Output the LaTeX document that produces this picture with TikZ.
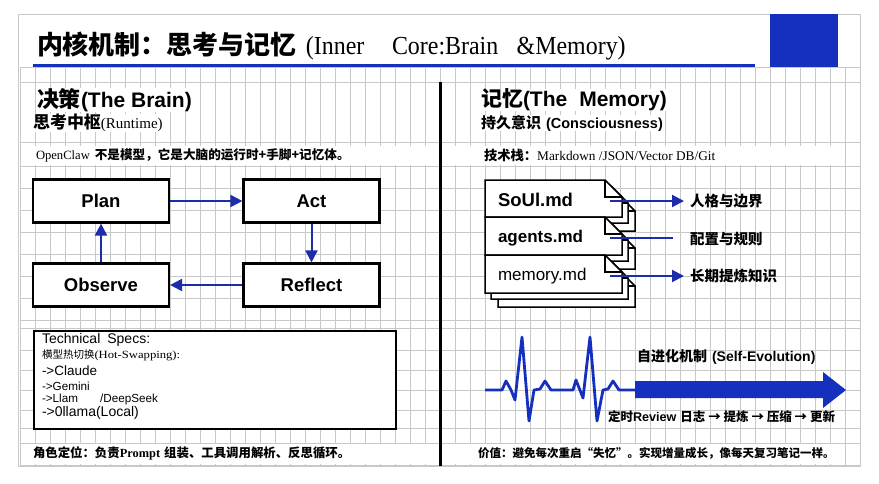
\documentclass[tikz,border=0pt]{standalone}
\usepackage{fontspec}
\usepackage{graphicx}
\usetikzlibrary{arrows.meta}
\setmainfont{Liberation Serif}
\setsansfont{Liberation Sans}
\newfontfamily\zhfont{Noto Sans CJK SC}
\newcommand\ZB[2]{{\zhfont\bfseries\fontsize{#1}{#1}\selectfont #2}}
\newcommand\ZR[2]{{\zhfont\fontsize{#1}{#1}\selectfont #2}}
\newcommand\SB[2]{{\sffamily\bfseries\fontsize{#1}{#1}\selectfont #2}}
\newcommand\SR[2]{{\sffamily\fontsize{#1}{#1}\selectfont #2}}
\newcommand\RR[2]{{\rmfamily\fontsize{#1}{#1}\selectfont #2}}
\definecolor{myblue}{RGB}{22,48,190}
\definecolor{linkblue}{RGB}{28,44,170}
\definecolor{gridc}{RGB}{200,200,200}
\tikzset{
  txt/.style={inner sep=0pt, outer sep=0pt, anchor=west},
  stagebox/.style={draw, line width=2.2pt, fill=white, minimum width=136pt, minimum height=43pt, inner sep=0pt,
     font=\sffamily\bfseries\fontsize{18.5}{18.5}\selectfont},
  flow/.style={draw=linkblue, line width=2pt, -{Triangle[length=12pt,width=12pt]}},
  flowplain/.style={draw=linkblue, line width=2pt},
  gridline/.style={draw=gridc, line width=0.6pt},
  docpage/.style={draw, line width=1.5pt, fill=white, line join=miter},
}
\begin{document}
\begin{tikzpicture}[x=1pt,y=-1pt]
\useasboundingbox (0,0) rectangle (879,483);
\fill[white] (0,0) rectangle (879,483);
% outer frame
\draw[gridc, line width=0.8pt] (18,14) rectangle (860,466);
% grid
\foreach \x in {20,35,...,860} \draw[gridline] (\x,67) -- (\x,465);
\foreach \y in {67,82,142,166,188,210,232,254,276,298,320,328,350,370,390,410,428,443,465}
  \draw[gridline] (20,\y) -- (860,\y);
% white bands
\fill[white] (22,146) rectangle (438,165);
\fill[white] (443,146) rectangle (845,165);
\fill[white] (22,444) rectangle (438,464);
\fill[white] (443,444) rectangle (845,464);
% title
\fill[myblue] (770,14) rectangle (838,67);
\draw[myblue, line width=3pt] (33,65) -- (755,65);
\node[txt] (title) at (37,46) {\ZB{26}{内核机制：思考与记忆}\hspace{9pt}\scalebox{0.92}[1]{\RR{26}{(Inner\hspace{30pt}Core:Brain\hspace{20pt}\&Memory)}}};
% divider
\draw[black, line width=3pt] (440,82) -- (440,466);

% ---------- left ----------
\node[txt, fill=white] (lh1) at (37,100) {\ZB{22}{决策}\SB{21}{(The Brain)}};
\node[txt, fill=white] (lh2) at (33,123) {\ZB{17}{思考中枢}\RR{15}{(Runtime)}};
\node[txt] (lh3) at (36,155) {\RR{12.6}{OpenClaw}\hspace{5pt}\ZB{12.6}{不是模型，它是大脑的运行时+手脚+记忆体。}};

\node[stagebox] (plan) at (101,201) {Plan};
\node[stagebox] (act) at (311.5,201) {Act};
\node[stagebox] (observe) at (101,285) {Observe};
\node[stagebox] (reflect) at (311.5,285) {Reflect};
\draw[flow] (plan.east) -- (act.west);
\draw[flow] (act.south) -- (reflect.north);
\draw[flow] (reflect.west) -- (observe.east);
\draw[flow] (observe.north) -- (plan.south);

\node[draw, line width=2.2pt, fill=white, minimum width=362pt, minimum height=98pt, anchor=north west, inner sep=0pt] (spec) at (33,330) {};
\node[txt] (s1) at (42,340) {\SR{14}{Technical\hspace{7pt}Specs:}};
\node[txt] (s2) at (42,355) {\ZR{10.5}{横型热切换}\scalebox{1.15}[1]{\RR{11}{(Hot-Swapping):}}};
\node[txt] (s3) at (42,371) {\SR{13.5}{->Claude}};
\node[txt] (s4) at (42,386) {\SR{11.7}{->Gemini}};
\node[txt] (s5) at (42,399) {\SR{11.7}{->Llam\hspace{22pt}/DeepSeek}};
\node[txt] (s6) at (42,413) {\SR{14}{->0llama(Local)}};

\node[txt] (lb) at (33,453) {\ZB{12.4}{角色定位：负责}\RR{12.4}{\bfseries Prompt}\hspace{4pt}\ZB{12.4}{组装、工具调用解析、反思循环。}};

% ---------- right ----------
\node[txt, fill=white] (rh1) at (481,100) {\ZB{21}{记忆}\SB{21}{(The\hspace{12pt}Memory)}};
\node[txt, fill=white] (rh2) at (481,123) {\ZB{15}{持久意识}\hspace{5pt}\SB{14.5}{(Consciousness)}};
\node[txt] (rh3) at (484,155) {\ZB{13.3}{技术栈：}\RR{13.3}{Markdown /JSON/Vector DB/Git}};

% document stack (back layers then front)
\foreach \dx/\dy in {13/14, 6/6, 0/0} {
  \foreach \t/\b in {180/217, 217/255, 255/293} {
    \draw[docpage] ({485+\dx},{\t+\dy}) -- ({605+\dx},{\t+\dy}) -- ({622+\dx},{\t+\dy+17}) -- ({622+\dx},{\b+\dy}) -- ({485+\dx},{\b+\dy}) -- cycle;
    \draw[line width=1.2pt] ({605+\dx},{\t+\dy}) -- ({605+\dx},{\t+\dy+17}) -- ({622+\dx},{\t+\dy+17});
  }
}
\node[txt] (d1) at (498,200) {\SB{18.5}{SoUl.md}};
\node[txt] (d2) at (498,238) {\SB{17}{agents.md}};
\node[txt] (d3) at (498,276) {\SR{17}{memory.md}};

\node[txt] (l1) at (690,201) {\ZB{14.5}{人格与边界}};
\node[txt] (l2) at (690,239) {\ZB{14.5}{配置与规则}};
\node[txt] (l3) at (690,276) {\ZB{14.5}{长期提炼知识}};
\coordinate (a1) at (610,201);
\coordinate (a2) at (610,238);
\coordinate (a3) at (610,276);
\coordinate (e2) at (673,238);
\draw[flow] (a1) -- ([xshift=-6pt]l1.west);
\draw[flowplain] (a2) -- (e2);
\draw[flow] (a3) -- ([xshift=-6pt]l3.west);

% heartbeat
\draw[myblue, line width=2.8pt, line join=round]
  (485,390) -- (502,390) -- (506,381) -- (511,390) -- (515,400) -- (522,337) -- (529,421) -- (534,390)
  -- (540,389) -- (545,381) -- (551,390) -- (573,390) -- (576,380) -- (583,398) -- (590,337) -- (597,421)
  -- (603,390) -- (608,389) -- (613,381) -- (619,390) -- (636,390);
% big arrow
\fill[myblue] (635,381) -- (823,381) -- (823,372) -- (846,390) -- (823,408) -- (823,398) -- (635,398) -- cycle;

\node[txt] (ev) at (637,357) {\ZB{14}{自进化机制}\hspace{5pt}\SB{14}{(Self-Evolution)}};
\node[txt] (rv) at (608,417) {\ZB{12.5}{定时}\SB{12.6}{Review}\hspace{4pt}\ZB{12.5}{日志 → 提炼 → 压缩 → 更新}};

\node[txt] (rb) at (478,453) {\ZB{11.5}{价值：避免每次重启“失忆”。实现增量成长，像每天复习笔记一样。}};
\end{tikzpicture}
\end{document}
